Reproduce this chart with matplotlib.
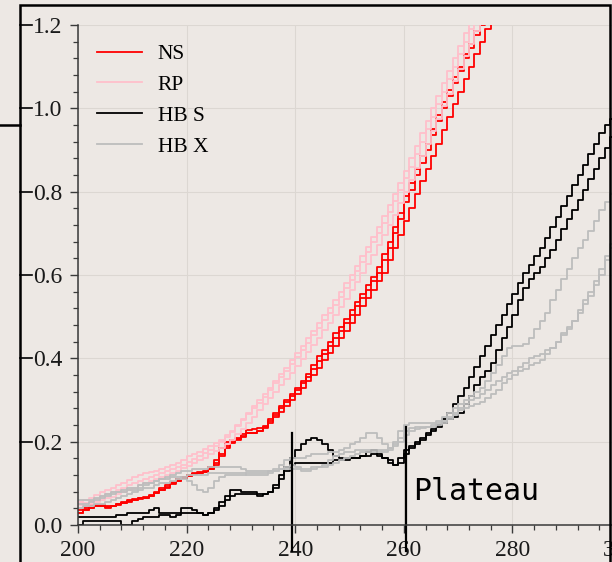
import numpy as np
import matplotlib.pyplot as plt
import matplotlib.transforms as mtransforms
from matplotlib.patches import Rectangle
from matplotlib.lines import Line2D

# each run starts at x = 200 and steps by 1
x_start = 200

ns_runs = [
    [0.035, 0.04, 0.048, 0.048, 0.048, 0.044, 0.046, 0.05, 0.055, 0.06, 0.062, 0.065, 0.067,
     0.072, 0.08, 0.088, 0.095, 0.103, 0.11, 0.116, 0.12, 0.125, 0.127, 0.13, 0.14, 0.155,
     0.185, 0.2, 0.205, 0.21, 0.218, 0.222, 0.222, 0.225, 0.235, 0.255, 0.27, 0.285, 0.3,
     0.315, 0.33, 0.345, 0.362, 0.385, 0.405, 0.42, 0.44, 0.46, 0.475, 0.495, 0.515, 0.535,
     0.555, 0.575, 0.595, 0.62, 0.65, 0.68, 0.715, 0.75, 0.79, 0.82, 0.855, 0.885, 0.915,
     0.95, 0.985, 1.015, 1.045, 1.075, 1.1, 1.13, 1.155, 1.185, 1.21, 1.24],
    [0.028, 0.035, 0.04, 0.045, 0.045, 0.042, 0.045, 0.048, 0.052, 0.056, 0.06, 0.062, 0.065,
     0.07, 0.076, 0.084, 0.09, 0.098, 0.106, 0.112, 0.118, 0.122, 0.125, 0.128, 0.135, 0.148,
     0.17, 0.19, 0.2, 0.206, 0.214, 0.228, 0.23, 0.232, 0.238, 0.25, 0.265, 0.28, 0.295,
     0.31, 0.325, 0.34, 0.355, 0.375, 0.393, 0.41, 0.43, 0.448, 0.465, 0.485, 0.505, 0.525,
     0.545, 0.565, 0.585, 0.605, 0.635, 0.665, 0.7, 0.735, 0.775, 0.805, 0.84, 0.87, 0.9,
     0.935, 0.97, 1.0, 1.03, 1.06, 1.09, 1.12, 1.145, 1.175, 1.2, 1.23],
    [0.03, 0.035, 0.042, 0.045, 0.045, 0.045, 0.045, 0.05, 0.052, 0.058, 0.06, 0.064, 0.066,
     0.07, 0.078, 0.085, 0.092, 0.1, 0.106, 0.112, 0.118, 0.122, 0.125, 0.128, 0.135, 0.145,
     0.165, 0.185, 0.198, 0.205, 0.212, 0.22, 0.222, 0.226, 0.232, 0.245, 0.26, 0.272, 0.285,
     0.3, 0.315, 0.33, 0.345, 0.36, 0.378, 0.395, 0.412, 0.43, 0.448, 0.466, 0.485, 0.505,
     0.525, 0.545, 0.565, 0.585, 0.605, 0.635, 0.665, 0.695, 0.73, 0.76, 0.795, 0.825, 0.855,
     0.885, 0.915, 0.948, 0.98, 1.01, 1.04, 1.07, 1.1, 1.13, 1.16, 1.19, 1.22],
]

rp_runs = [
    [0.055, 0.06, 0.065, 0.072, 0.08, 0.085, 0.09, 0.095, 0.1, 0.108, 0.115, 0.12, 0.125,
     0.128, 0.13, 0.135, 0.14, 0.145, 0.15, 0.157, 0.165, 0.17, 0.175, 0.182, 0.19, 0.198,
     0.205, 0.215, 0.225, 0.24, 0.255, 0.27, 0.285, 0.3, 0.315, 0.33, 0.346, 0.362, 0.378,
     0.395, 0.412, 0.43, 0.448, 0.466, 0.484, 0.503, 0.522, 0.541, 0.56, 0.58, 0.6, 0.622,
     0.645, 0.668, 0.692, 0.716, 0.741, 0.767, 0.794, 0.822, 0.85, 0.88, 0.91, 0.94, 0.97,
     1.0, 1.03, 1.06, 1.09, 1.12, 1.15, 1.18, 1.21, 1.24],
    [0.048, 0.052, 0.058, 0.063, 0.07, 0.075, 0.08, 0.085, 0.09, 0.095, 0.1, 0.105, 0.11,
     0.115, 0.12, 0.125, 0.13, 0.135, 0.14, 0.145, 0.152, 0.158, 0.165, 0.172, 0.18, 0.19,
     0.2, 0.212, 0.224, 0.238, 0.252, 0.266, 0.28, 0.294, 0.308, 0.325, 0.34, 0.355, 0.37,
     0.386, 0.403, 0.42, 0.437, 0.455, 0.473, 0.491, 0.51, 0.529, 0.548, 0.568, 0.588, 0.61,
     0.632, 0.655, 0.678, 0.702, 0.726, 0.751, 0.777, 0.804, 0.832, 0.86, 0.89, 0.92, 0.95,
     0.98, 1.01, 1.04, 1.07, 1.1, 1.13, 1.16, 1.19, 1.22],
    [0.04, 0.045, 0.05, 0.055, 0.06, 0.064, 0.068, 0.074, 0.08, 0.085, 0.09, 0.095, 0.1,
     0.105, 0.11, 0.115, 0.12, 0.125, 0.13, 0.136, 0.142, 0.148, 0.155, 0.162, 0.17, 0.178,
     0.185, 0.195, 0.205, 0.218, 0.23, 0.245, 0.26, 0.275, 0.29, 0.305, 0.32, 0.335, 0.35,
     0.365, 0.382, 0.398, 0.415, 0.432, 0.45, 0.468, 0.486, 0.505, 0.524, 0.543, 0.563,
     0.583, 0.604, 0.626, 0.648, 0.671, 0.695, 0.72, 0.745, 0.772, 0.8, 0.828, 0.856, 0.885,
     0.915, 0.945, 0.975, 1.005, 1.035, 1.065, 1.095, 1.125, 1.155, 1.185, 1.215],
]

hbs_runs = [
    [0.02, 0.02, 0.02, 0.02, 0.02, 0.02, 0.02, 0.025, 0.025, 0.03, 0.03, 0.03, 0.03, 0.035,
     0.04, 0.03, 0.03, 0.03, 0.03, 0.04, 0.04, 0.035, 0.03, 0.025, 0.03, 0.04, 0.055, 0.07,
     0.085, 0.085, 0.08, 0.08, 0.08, 0.07, 0.075, 0.08, 0.095, 0.12, 0.14, 0.16, 0.18, 0.195,
     0.205, 0.21, 0.205, 0.195, 0.18, 0.165, 0.16, 0.16, 0.16, 0.16, 0.165, 0.175, 0.18, 0.17,
     0.16, 0.155, 0.145, 0.16, 0.18, 0.19, 0.2, 0.21, 0.22, 0.23, 0.24, 0.255, 0.27, 0.29,
     0.31, 0.33, 0.355, 0.38, 0.405, 0.43, 0.455, 0.48, 0.505, 0.53, 0.555, 0.58, 0.605,
     0.625, 0.645, 0.665, 0.69, 0.715, 0.74, 0.765, 0.79, 0.815, 0.84, 0.865, 0.89, 0.915,
     0.94, 0.96, 0.975, 0.99, 1.0],
    [0.0, 0.01, 0.01, 0.01, 0.01, 0.01, 0.01, 0.01, 0.0, 0.0, 0.01, 0.015, 0.02, 0.02, 0.02,
     0.025, 0.025, 0.02, 0.025, 0.03, 0.03, 0.03, 0.03, 0.025, 0.03, 0.035, 0.045, 0.06, 0.07,
     0.075, 0.075, 0.075, 0.075, 0.075, 0.075, 0.08, 0.09, 0.11, 0.13, 0.145, 0.15, 0.15,
     0.15, 0.15, 0.15, 0.15, 0.15, 0.155, 0.155, 0.155, 0.16, 0.16, 0.165, 0.165, 0.17, 0.165,
     0.16, 0.15, 0.145, 0.15, 0.17, 0.185, 0.195, 0.205, 0.215, 0.225, 0.235, 0.245, 0.255,
     0.26, 0.27, 0.29, 0.31, 0.335, 0.355, 0.37, 0.39, 0.42, 0.45, 0.475, 0.505, 0.54, 0.57,
     0.59, 0.605, 0.62, 0.64, 0.66, 0.685, 0.71, 0.735, 0.755, 0.78, 0.805, 0.83, 0.855, 0.88,
     0.905, 0.93, 0.95, 0.97],
]

hbx_runs = [
    [0.06, 0.06, 0.06, 0.065, 0.07, 0.075, 0.08, 0.08, 0.085, 0.09, 0.09, 0.095, 0.1, 0.1,
     0.105, 0.11, 0.115, 0.12, 0.125, 0.13, 0.13, 0.135, 0.135, 0.135, 0.14, 0.14, 0.14, 0.14,
     0.14, 0.14, 0.135, 0.13, 0.13, 0.13, 0.13, 0.13, 0.135, 0.145, 0.155, 0.16, 0.16, 0.16,
     0.165, 0.17, 0.17, 0.17, 0.175, 0.175, 0.18, 0.185, 0.195, 0.2, 0.21, 0.22, 0.22, 0.21,
     0.195, 0.185, 0.2, 0.225, 0.24, 0.245, 0.245, 0.245, 0.245, 0.245, 0.25, 0.26, 0.27,
     0.28, 0.29, 0.3, 0.31, 0.32, 0.33, 0.345, 0.365, 0.385, 0.405, 0.425, 0.43, 0.43, 0.435,
     0.45, 0.47, 0.49, 0.51, 0.54, 0.565, 0.59, 0.615, 0.64, 0.665, 0.685, 0.705, 0.73, 0.755,
     0.775, 0.795, 0.81, 0.83],
    [0.05, 0.05, 0.055, 0.06, 0.065, 0.07, 0.075, 0.08, 0.08, 0.085, 0.085, 0.09, 0.095, 0.1,
     0.105, 0.11, 0.11, 0.115, 0.115, 0.11, 0.105, 0.095, 0.085, 0.08, 0.09, 0.105, 0.115,
     0.12, 0.12, 0.12, 0.12, 0.125, 0.125, 0.125, 0.125, 0.13, 0.13, 0.135, 0.14, 0.145, 0.14,
     0.135, 0.135, 0.14, 0.14, 0.145, 0.155, 0.165, 0.17, 0.175, 0.175, 0.18, 0.18, 0.18, 0.18,
     0.18, 0.18, 0.185, 0.195, 0.21, 0.225, 0.232, 0.235, 0.235, 0.235, 0.24, 0.245, 0.25,
     0.26, 0.27, 0.28, 0.29, 0.3, 0.305, 0.315, 0.325, 0.335, 0.345, 0.355, 0.365, 0.37, 0.38,
     0.39, 0.4, 0.405, 0.41, 0.42, 0.425, 0.44, 0.455, 0.47, 0.49, 0.515, 0.54, 0.56, 0.585,
     0.615, 0.645, 0.675, 0.7, 0.73],
    [0.04, 0.045, 0.045, 0.05, 0.05, 0.055, 0.06, 0.065, 0.07, 0.075, 0.08, 0.085, 0.09, 0.09,
     0.095, 0.1, 0.1, 0.105, 0.11, 0.115, 0.12, 0.12, 0.12, 0.12, 0.125, 0.125, 0.125, 0.125,
     0.125, 0.125, 0.125, 0.12, 0.12, 0.12, 0.12, 0.125, 0.13, 0.135, 0.135, 0.135, 0.135,
     0.13, 0.13, 0.135, 0.14, 0.14, 0.145, 0.15, 0.155, 0.16, 0.165, 0.17, 0.175, 0.175, 0.175,
     0.175, 0.175, 0.18, 0.19, 0.2, 0.215, 0.225, 0.23, 0.232, 0.235, 0.235, 0.24, 0.245,
     0.255, 0.265, 0.275, 0.28, 0.285, 0.29, 0.295, 0.305, 0.315, 0.325, 0.34, 0.35, 0.36,
     0.37, 0.375, 0.385, 0.39, 0.395, 0.41, 0.425, 0.44, 0.46, 0.475, 0.49, 0.51, 0.53, 0.55,
     0.575, 0.6, 0.635, 0.665, 0.69, 0.72],
]

groups = [("NS", ns_runs, "#ff0000"),
          ("RP", rp_runs, "#ffc0cb"),
          ("HB S", hbs_runs, "#000000"),
          ("HB X", hbx_runs, "#bdbdbd")]

plateau_x = [239.5, 260.4]
plateau_top = [0.22, 0.235]
plateau_bottom = -0.062

xticks = [200, 220, 240, 260, 280, 300]
yticks = [0.0, 0.2, 0.4, 0.6, 0.8, 1.0, 1.2]

bg = "#ede8e4"
plt.rcParams["font.family"] = ["Liberation Serif", "DejaVu Serif"]

fig = plt.figure(figsize=(6.12, 5.62), dpi=100, facecolor=bg)
ax = fig.add_axes([78 / 612, 37 / 562, 543 / 612, 500 / 562])
ax.set_facecolor(bg)

for name, runs, color in groups:
    for i, vals in enumerate(runs):
        xs = np.arange(x_start, x_start + len(vals))
        ax.plot(xs, vals, drawstyle="steps-post", color=color, lw=1.3,
                label=name if i == 0 else None)

for xv, top in zip(plateau_x, plateau_top):
    ax.plot([xv, xv], [plateau_bottom, top], color="black", lw=1.6, clip_on=False)
ax.text(261.8, 0.06, "Plateau", family="DejaVu Sans Mono", fontsize=21.5,
        va="baseline", ha="left")

ax.set_xlim(200, 300)
ax.set_ylim(0, 1.2)
ax.set_xticks(xticks)
ax.set_yticks(yticks)
ax.set_xticks(np.arange(200, 301, 4), minor=True)
ax.set_yticks(np.arange(0, 1.21, 0.04), minor=True)
ax.yaxis.set_major_formatter(plt.FormatStrFormatter("%.1f"))

ax.grid(True, which="major", color="#dcd7d2", lw=0.8)
ax.set_axisbelow(True)
for side in ["top", "right"]:
    ax.spines[side].set_visible(False)
for side in ["left", "bottom"]:
    ax.spines[side].set_color("#3a3a3a")
    ax.spines[side].set_linewidth(1.1)
ax.tick_params(which="major", direction="out", length=6, width=1, color="#3a3a3a",
               labelsize=17, pad=5, labelcolor="#1a1a1a")
ax.tick_params(which="minor", direction="out", length=3.5, width=0.9, color="#3a3a3a")

ax.legend(loc="upper left", bbox_to_anchor=(0.035, 0.962), borderaxespad=0, borderpad=0,
          frameon=False, fontsize=15.5, handlelength=2.1, handletextpad=0.72,
          labelspacing=0.5)

# outer frame of the screenshot
fig.add_artist(Rectangle((20 / 612, -0.05), 590 / 612, 1.05 - 5 / 562, fill=False,
                         lw=1.8, ec="black", transform=fig.transFigure))
fig.add_artist(Line2D([0, 20 / 612], [1 - 125 / 562, 1 - 125 / 562], lw=1.8,
                      color="black", transform=fig.transFigure))
trans = mtransforms.blended_transform_factory(fig.transFigure, ax.transData)
for yv in yticks[1:]:
    ax.plot([20 / 612, 32 / 612], [yv, yv], color="black", lw=1.2, transform=trans,
            clip_on=False)

fig.savefig("out.png", dpi=100, facecolor=bg)
